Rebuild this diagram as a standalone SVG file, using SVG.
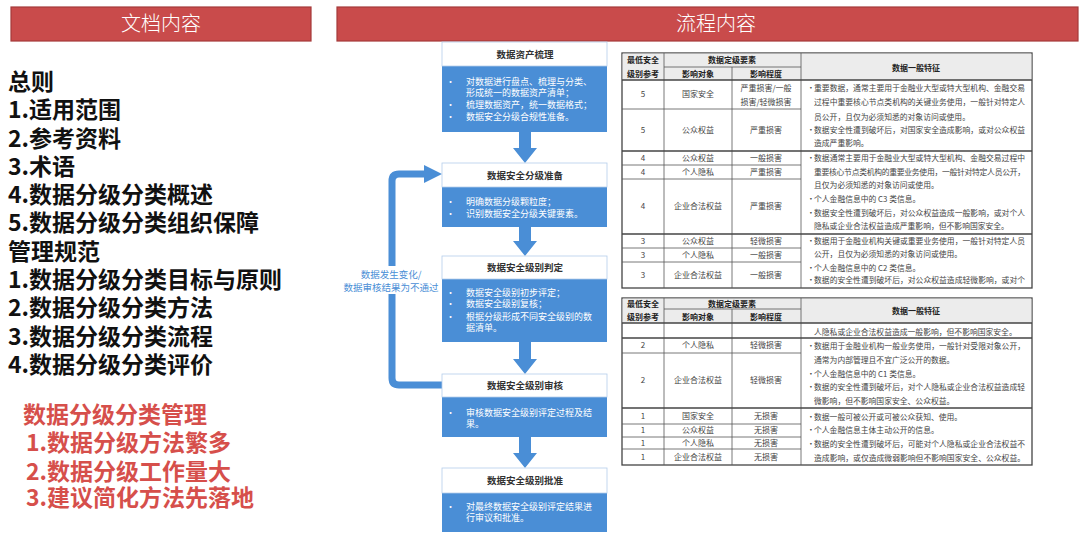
<svg xmlns="http://www.w3.org/2000/svg" width="1080" height="538" viewBox="0 0 1080 538">
<style>
.hdr{fill:#C94B4B;stroke:#A53A3A;stroke-width:1.2}
.hdrt{font-family:"Noto Sans CJK SC",sans-serif;font-weight:300;font-size:20px;fill:#fff;text-anchor:middle}
.lt{font-family:"Noto Sans CJK SC",sans-serif;font-weight:700;font-size:23px;fill:#111}
.rt{font-family:"Noto Sans CJK SC",sans-serif;font-weight:700;font-size:23px;fill:#D64F4B}
.body{fill:#4A8ED6}
.head{fill:#fff;stroke:#B5CDEA;stroke-width:0.8}
.ttl{font-family:"Noto Sans CJK SC",sans-serif;font-weight:700;font-size:9.5px;fill:#333;text-anchor:middle}
.bt{font-family:"Noto Sans CJK SC",sans-serif;font-size:9px;fill:#fff}
.arw{fill:#4A8ED6}
.fb{fill:none;stroke:#4A8ED6;stroke-width:7}
.lbl{font-family:"Noto Sans CJK SC",sans-serif;font-size:9.5px;fill:#4A8ED6;text-anchor:middle}
.tb{fill:#fff;stroke:#444;stroke-width:1.3}
.th{fill:#ECECEC}
.ln{stroke:#555;stroke-width:0.8}
.lnb{stroke:#444;stroke-width:1.3}
.tc{font-family:"Noto Sans CJK SC",sans-serif;font-size:8px;fill:#444;text-anchor:middle}
.thc{font-family:"Noto Sans CJK SC",sans-serif;font-weight:700;font-size:8px;fill:#222;text-anchor:middle}
.tx{font-family:"Noto Sans CJK SC",sans-serif;font-size:7.8px;fill:#444}
</style>

<g id="header-doc">
<rect class="hdr" x="11" y="7" width="300" height="34"/>
<text class="hdrt" x="161" y="31">文档内容</text>
</g>
<g id="header-flow">
<rect class="hdr" x="337" y="7" width="741" height="34"/>
<text class="hdrt" x="716" y="31">流程内容</text>
</g>

<g id="doc-outline">
<text class="lt" x="8" y="90">总则</text>
<text class="lt" x="8" y="118">1.适用范围</text>
<text class="lt" x="8" y="147">2.参考资料</text>
<text class="lt" x="8" y="175">3.术语</text>
<text class="lt" x="8" y="203">4.数据分级分类概述</text>
<text class="lt" x="8" y="231">5.数据分级分类组织保障</text>
<text class="lt" x="8" y="260">管理规范</text>
<text class="lt" x="8" y="288">1.数据分级分类目标与原则</text>
<text class="lt" x="8" y="316">2.数据分级分类方法</text>
<text class="lt" x="8" y="345">3.数据分级分类流程</text>
<text class="lt" x="8" y="373">4.数据分级分类评价</text>
</g>

<g id="doc-notes">
<text class="rt" x="23" y="423">数据分级分类管理</text>
<text class="rt" x="26" y="451">1.数据分级方法繁多</text>
<text class="rt" x="26" y="480">2.数据分级工作量大</text>
<text class="rt" x="26" y="506">3.建议简化方法先落地</text>
</g>

<g id="connectors">
<polygon class="arw" points="519,132 531,132 531,148 537,148 525,163 513,148 519,148"/>
<polygon class="arw" points="519,227 531,227 531,241 537,241 525,256 513,241 519,241"/>
<polygon class="arw" points="519,342 531,342 531,359 537,359 525,374 513,359 519,359"/>
<polygon class="arw" points="519,437 531,437 531,453 537,453 525,468 513,453 519,453"/>
<path class="fb" d="M442,385 H399 Q392,385 392,378 V181 Q392,174 399,174 H426"/>
<polygon class="arw" points="424,165 442,174 424,183"/>
<rect x="342" y="266" width="98" height="28" fill="#fff"/>
<text class="lbl" x="391" y="278">数据发生变化/</text>
<text class="lbl" x="391" y="291">数据审核结果为不通过</text>
</g>

<g id="step1">
<rect class="body" x="442" y="42" width="165" height="90"/>
<rect class="head" x="442" y="42" width="165" height="24"/>
<text class="ttl" x="525" y="58">数据资产梳理</text>
<text class="bt" x="446" y="85">•</text><text class="bt" x="466" y="85">对数据进行盘点、梳理与分类、</text>
<text class="bt" x="466" y="96">形成统一的数据资产清单；</text>
<text class="bt" x="446" y="108">•</text><text class="bt" x="466" y="108">梳理数据资产，统一数据格式；</text>
<text class="bt" x="446" y="120">•</text><text class="bt" x="466" y="120">数据安全分级合规性准备。</text>
</g>

<g id="step2">
<rect class="body" x="442" y="163" width="165" height="64"/>
<rect class="head" x="442" y="163" width="165" height="24"/>
<text class="ttl" x="525" y="179">数据安全分级准备</text>
<text class="bt" x="446" y="205">•</text><text class="bt" x="466" y="205">明确数据分级颗粒度；</text>
<text class="bt" x="446" y="217">•</text><text class="bt" x="466" y="217">识别数据安全分级关键要素。</text>
</g>

<g id="step3">
<rect class="body" x="442" y="256" width="165" height="86"/>
<rect class="head" x="442" y="256" width="165" height="23"/>
<text class="ttl" x="525" y="271">数据安全级别判定</text>
<text class="bt" x="446" y="296">•</text><text class="bt" x="466" y="296">数据安全级别初步评定；</text>
<text class="bt" x="446" y="307">•</text><text class="bt" x="466" y="307">数据安全级别复核；</text>
<text class="bt" x="446" y="320">•</text><text class="bt" x="466" y="320">根据分级形成不同安全级别的数</text>
<text class="bt" x="466" y="331">据清单。</text>
</g>

<g id="step4">
<rect class="body" x="442" y="374" width="165" height="63"/>
<rect class="head" x="442" y="374" width="165" height="23"/>
<text class="ttl" x="525" y="389">数据安全级别审核</text>
<text class="bt" x="446" y="416">•</text><text class="bt" x="466" y="416">审核数据安全级别评定过程及结</text>
<text class="bt" x="466" y="427">果。</text>
</g>

<g id="step5">
<rect class="body" x="442" y="468" width="165" height="64"/>
<rect class="head" x="442" y="468" width="165" height="25"/>
<text class="ttl" x="525" y="484">数据安全级别批准</text>
<text class="bt" x="446" y="510">•</text><text class="bt" x="466" y="510">对最终数据安全级别评定结果进</text>
<text class="bt" x="466" y="521">行审议和批准。</text>
</g>

<g id="table-top">
<rect class="tb" x="622" y="53" width="410" height="235"/>
<rect class="th" x="622.6" y="53.6" width="408.8" height="26.4"/>
<line class="ln" x1="664" y1="53" x2="664" y2="288"/>
<line class="ln" x1="732" y1="67" x2="732" y2="288"/>
<line class="ln" x1="801" y1="53" x2="801" y2="288"/>
<line class="ln" x1="664" y1="67" x2="801" y2="67"/>
<line class="lnb" x1="622" y1="80" x2="1032" y2="80"/>
<line class="ln" x1="622" y1="109" x2="801" y2="109"/>
<line class="lnb" x1="622" y1="151" x2="1032" y2="151"/>
<line class="ln" x1="622" y1="165" x2="801" y2="165"/>
<line class="ln" x1="622" y1="179" x2="801" y2="179"/>
<line class="lnb" x1="622" y1="234" x2="1032" y2="234"/>
<line class="ln" x1="622" y1="248" x2="801" y2="248"/>
<line class="ln" x1="622" y1="262" x2="801" y2="262"/>
<text class="thc" x="643" y="63">最低安全</text>
<text class="thc" x="643" y="77">级别参考</text>
<text class="thc" x="732" y="63">数据定级要素</text>
<text class="thc" x="698" y="77">影响对象</text>
<text class="thc" x="766" y="77">影响程度</text>
<text class="thc" x="916" y="71">数据一般特征</text>
<text class="tc" x="643" y="97">5</text><text class="tc" x="698" y="97">国家安全</text>
<text class="tc" x="766" y="91">严重损害/一般</text><text class="tc" x="766" y="105">损害/轻微损害</text>
<text class="tc" x="643" y="133">5</text><text class="tc" x="698" y="133">公众权益</text><text class="tc" x="766" y="133">严重损害</text>
<text class="tc" x="643" y="161">4</text><text class="tc" x="698" y="161">公众权益</text><text class="tc" x="766" y="161">一般损害</text>
<text class="tc" x="643" y="175">4</text><text class="tc" x="698" y="175">个人隐私</text><text class="tc" x="766" y="175">严重损害</text>
<text class="tc" x="643" y="209">4</text><text class="tc" x="698" y="209">企业合法权益</text><text class="tc" x="766" y="209">严重损害</text>
<text class="tc" x="643" y="244">3</text><text class="tc" x="698" y="244">公众权益</text><text class="tc" x="766" y="244">轻微损害</text>
<text class="tc" x="643" y="258">3</text><text class="tc" x="698" y="258">个人隐私</text><text class="tc" x="766" y="258">一般损害</text>
<text class="tc" x="643" y="278">3</text><text class="tc" x="698" y="278">企业合法权益</text><text class="tc" x="766" y="278">一般损害</text>
<text class="tx" x="807" y="91">•</text><text class="tx" x="814" y="91" textLength="211">重要数据，通常主要用于金融业大型或特大型机构、金融交易</text>
<text class="tx" x="814" y="105" textLength="211">过程中重要核心节点类机构的关键业务使用，一般针对特定人</text>
<text class="tx" x="814" y="120">员公开，且仅为必须知悉的对象访问或使用。</text>
<text class="tx" x="807" y="133">•</text><text class="tx" x="814" y="133" textLength="211">数据安全性遭到破坏后，对国家安全造成影响，或对公众权益</text>
<text class="tx" x="814" y="146">造成严重影响。</text>
<text class="tx" x="807" y="161">•</text><text class="tx" x="814" y="161" textLength="211">数据通常主要用于金融业大型或特大型机构、金融交易过程中</text>
<text class="tx" x="814" y="175" textLength="211">重要核心节点类机构的重要业务使用，一般针对特定人员公开，</text>
<text class="tx" x="814" y="188">且仅为必须知悉的对象访问或使用。</text>
<text class="tx" x="807" y="202">•</text><text class="tx" x="814" y="202">个人金融信息中的 C3 类信息。</text>
<text class="tx" x="807" y="216">•</text><text class="tx" x="814" y="216" textLength="211">数据安全性遭到破坏后，对公众权益造成一般影响，或对个人</text>
<text class="tx" x="814" y="229">隐私或企业合法权益造成严重影响，但不影响国家安全。</text>
<text class="tx" x="807" y="244">•</text><text class="tx" x="814" y="244" textLength="211">数据用于金融业机构关键或重要业务使用，一般针对特定人员</text>
<text class="tx" x="814" y="257">公开，且仅为必须知悉的对象访问或使用。</text>
<text class="tx" x="807" y="271">•</text><text class="tx" x="814" y="271">个人金融信息中的 C2 类信息。</text>
<text class="tx" x="807" y="283">•</text><text class="tx" x="814" y="283" textLength="211">数据的安全性遭到破坏后，对公众权益造成轻微影响，或对个</text>
</g>

<g id="table-bottom">
<rect class="tb" x="622" y="298" width="410" height="167"/>
<rect class="th" x="622.6" y="298.6" width="408.8" height="24.4"/>
<line class="ln" x1="664" y1="298" x2="664" y2="465"/>
<line class="ln" x1="732" y1="309" x2="732" y2="465"/>
<line class="ln" x1="801" y1="298" x2="801" y2="465"/>
<line class="ln" x1="664" y1="309" x2="801" y2="309"/>
<line class="lnb" x1="622" y1="323" x2="1032" y2="323"/>
<line class="lnb" x1="622" y1="338" x2="1032" y2="338"/>
<line class="ln" x1="622" y1="353" x2="801" y2="353"/>
<line class="lnb" x1="622" y1="408" x2="1032" y2="408"/>
<line class="ln" x1="622" y1="424" x2="801" y2="424"/>
<line class="ln" x1="622" y1="437" x2="801" y2="437"/>
<line class="ln" x1="622" y1="449" x2="801" y2="449"/>
<text class="thc" x="643" y="307">最低安全</text>
<text class="thc" x="643" y="320">级别参考</text>
<text class="thc" x="732" y="307">数据定级要素</text>
<text class="thc" x="698" y="320">影响对象</text>
<text class="thc" x="766" y="320">影响程度</text>
<text class="thc" x="916" y="314">数据一般特征</text>
<text class="tc" x="643" y="348">2</text><text class="tc" x="698" y="348">个人隐私</text><text class="tc" x="766" y="348">轻微损害</text>
<text class="tc" x="643" y="383">2</text><text class="tc" x="698" y="383">企业合法权益</text><text class="tc" x="766" y="383">轻微损害</text>
<text class="tc" x="643" y="419">1</text><text class="tc" x="698" y="419">国家安全</text><text class="tc" x="766" y="419">无损害</text>
<text class="tc" x="643" y="433">1</text><text class="tc" x="698" y="433">公众权益</text><text class="tc" x="766" y="433">无损害</text>
<text class="tc" x="643" y="446">1</text><text class="tc" x="698" y="446">个人隐私</text><text class="tc" x="766" y="446">无损害</text>
<text class="tc" x="643" y="460">1</text><text class="tc" x="698" y="460">企业合法权益</text><text class="tc" x="766" y="460">无损害</text>
<text class="tx" x="814" y="335">人隐私或企业合法权益造成一般影响，但不影响国家安全。</text>
<text class="tx" x="807" y="349">•</text><text class="tx" x="814" y="349" textLength="211">数据用于金融业机构一般业务使用，一般针对受限对象公开，</text>
<text class="tx" x="814" y="363">通常为内部管理且不宜广泛公开的数据。</text>
<text class="tx" x="807" y="377">•</text><text class="tx" x="814" y="377">个人金融信息中的 C1 类信息。</text>
<text class="tx" x="807" y="390">•</text><text class="tx" x="814" y="390" textLength="211">数据的安全性遭到破坏后，对个人隐私或企业合法权益造成轻</text>
<text class="tx" x="814" y="404">微影响，但不影响国家安全、公众权益。</text>
<text class="tx" x="807" y="420">•</text><text class="tx" x="814" y="420">数据一般可被公开或可被公众获知、使用。</text>
<text class="tx" x="807" y="433">•</text><text class="tx" x="814" y="433">个人金融信息主体主动公开的信息。</text>
<text class="tx" x="807" y="447">•</text><text class="tx" x="814" y="447" textLength="211">数据的安全性遭到破坏后，可能对个人隐私或企业合法权益不</text>
<text class="tx" x="814" y="461" textLength="211">造成影响，或仅造成微弱影响但不影响国家安全、公众权益。</text>
</g>
</svg>
